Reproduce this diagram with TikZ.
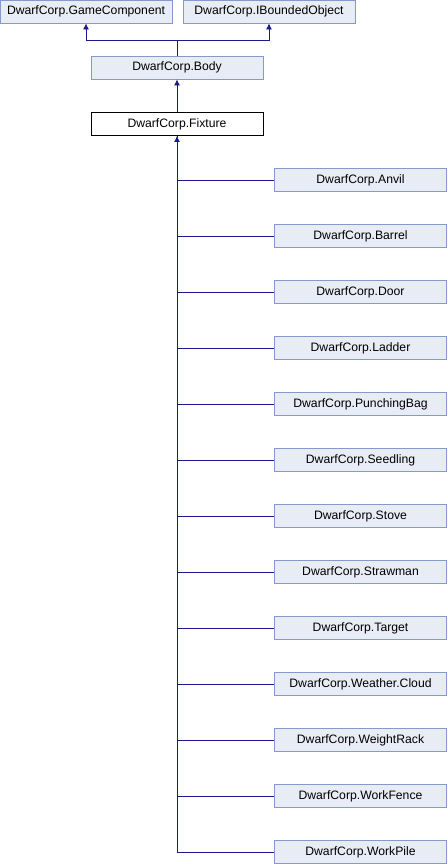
\documentclass[tikz,border=0pt]{standalone}
\usepackage{fontspec}
\setmainfont{Liberation Sans}
\usetikzlibrary{arrows.meta}
\definecolor{boxfill}{HTML}{E8ECF4}
\definecolor{boxdraw}{HTML}{8499CC}
\definecolor{edgecol}{HTML}{1A1A8C}
\tikzset{
  cls/.style={draw=boxdraw, fill=boxfill, line width=0.9pt, minimum width=172pt, minimum height=23pt, inner sep=0pt, font=\fontsize{12.2pt}{14pt}\selectfont},
  cur/.style={cls, draw=black, fill=white},
  edge/.style={draw=edgecol, line width=0.8pt},
  inh/.style={edge, {Latex[length=6pt,width=6pt]}-},
}
\begin{document}
\begin{tikzpicture}[x=1pt,y=-1pt]
\useasboundingbox (0,0) rectangle (447,864);
\node[cls] (gc) at (86,11.5) {DwarfCorp.GameComponent};
\node[cls] (ib) at (269,11.5) {DwarfCorp.IBoundedObject};
\node[cls] (body) at (177,67.5) {DwarfCorp.Body};
\node[cur] (fix) at (177,124) {DwarfCorp.Fixture};
\coordinate (j) at (177,40);
\draw[edge] (body.north) -- (j);
\draw[inh] (gc.south) |- (j);
\draw[inh] (ib.south) |- (j);
\draw[inh] (body.south) -- (fix.north);
\foreach \n/\t [count=\i from 0] in {anvil/Anvil,barrel/Barrel,door/Door,ladder/Ladder,punch/PunchingBag,seed/Seedling,stove/Stove,straw/Strawman,target/Target,cloud/Weather.Cloud,weight/WeightRack,fence/WorkFence,pile/WorkPile}{
  \node[cls] (\n) at (360.5,180+56*\i) {DwarfCorp.\t};
}
\foreach \n in {anvil,barrel,door,ladder,punch,seed,stove,straw,target,cloud,weight,fence}{
  \draw[edge] (fix.south) |- (\n.west);
}
\draw[inh] (fix.south) |- (pile.west);
\end{tikzpicture}
\end{document}
